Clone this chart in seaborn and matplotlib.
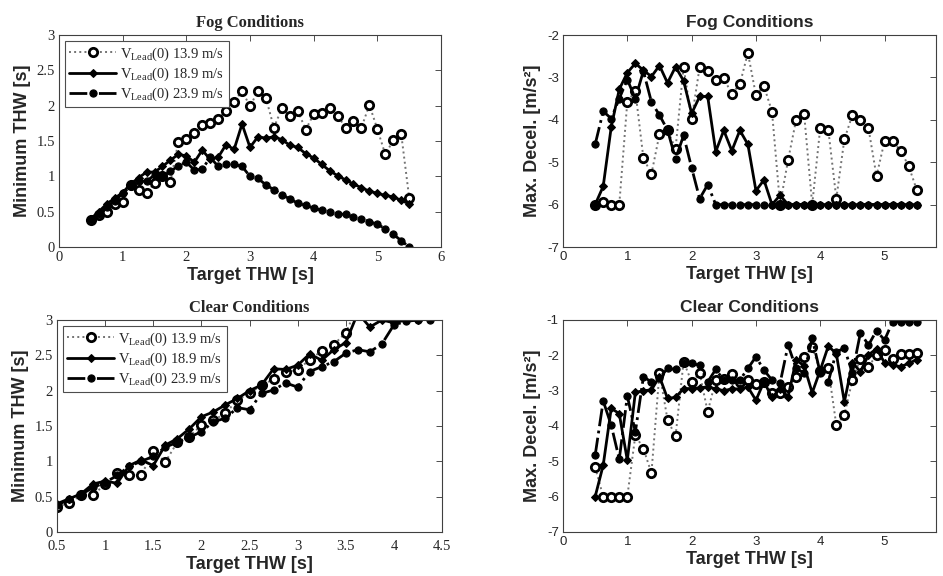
import numpy as np
import pandas as pd
import matplotlib
matplotlib.use('Agg')
import matplotlib.pyplot as plt
import seaborn as sns

# target THW grid (s)
thw = [0.5, 0.625, 0.75, 0.875, 1.0, 1.125, 1.25, 1.375, 1.5, 1.625, 1.75,
       1.875, 2.0, 2.125, 2.25, 2.375, 2.5, 2.625, 2.75, 2.875, 3.0, 3.125,
       3.25, 3.375, 3.5, 3.625, 3.75, 3.875, 4.0, 4.125, 4.25, 4.375, 4.5,
       4.625, 4.75, 4.875, 5.0, 5.125, 5.25, 5.375, 5.5]

labels = [r'V$_{\mathrm{Lead}}$(0) 13.9 m/s',
          r'V$_{\mathrm{Lead}}$(0) 18.9 m/s',
          r'V$_{\mathrm{Lead}}$(0) 23.9 m/s']

# Fog - minimum THW
fog_thw_139 = [0.38, 0.45, 0.49, 0.61, 0.63, 0.88, 0.80, 0.76, 0.91, 1.00, 0.92,
               1.49, 1.53, 1.62, 1.73, 1.75, 1.81, 1.93, 2.05, 2.21, 1.99, 2.21,
               2.11, 1.69, 1.96, 1.86, 1.93, 1.66, 1.88, 1.90, 1.96, 1.86, 1.69,
               1.79, 1.69, 2.01, 1.67, 1.31, 1.51, 1.60, 0.70]
fog_thw_189 = [0.40, 0.50, 0.61, 0.69, 0.77, 0.89, 0.98, 1.06, 1.06, 1.14, 1.23,
               1.31, 1.29, 1.20, 1.37, 1.24, 1.27, 1.45, 1.38, 1.74, 1.41, 1.56,
               1.54, 1.56, 1.52, 1.44, 1.41, 1.32, 1.26, 1.17, 1.08, 1.01, 0.95,
               0.89, 0.84, 0.79, 0.76, 0.73, 0.71, 0.66, 0.61]
fog_thw_239 = [0.39, 0.47, 0.56, 0.65, 0.76, 0.86, 0.93, 0.93, 1.02, 1.00, 1.07,
               1.15, 1.20, 1.09, 1.10, 1.27, 1.14, 1.17, 1.17, 1.14, 1.00, 0.97,
               0.88, 0.81, 0.74, 0.68, 0.62, 0.59, 0.55, 0.52, 0.49, 0.47, 0.46,
               0.42, 0.40, 0.36, 0.32, 0.26, 0.18, 0.09, 0.00]

# Fog - max deceleration
fog_dec_139 = [-6.0, -5.94, -6.0, -6.0, -3.57, -3.32, -4.9, -5.28, -4.34, -4.25, -4.68,
               -2.76, -3.98, -2.76, -2.86, -3.07, -3.02, -3.39, -3.16, -2.42, -3.42,
               -3.2, -3.81, -6.0, -4.95, -4.0, -3.87, -6.0, -4.19, -4.23, -5.86,
               -4.46, -3.89, -4.0, -4.2, -5.33, -4.5, -4.5, -4.73, -5.09, -5.65]
fog_dec_189 = [-6.0, -5.57, -4.17, -3.28, -2.89, -2.67, -2.83, -2.98, -2.72, -3.13, -2.75,
               -3.08, -3.85, -3.45, -3.45, -4.75, -4.25, -4.73, -4.25, -4.58, -5.67,
               -5.42, -6.0, -5.78, -6.0, -6.0, -6.0, -6.0, -6.0, -6.0, -6.0,
               -6.0, -6.0, -6.0, -6.0, -6.0, -6.0, -6.0, -6.0, -6.0, -6.0]
fog_dec_239 = [-4.58, -3.8, -3.97, -3.5, -3.05, -3.5, -2.85, -3.58, -3.89, -4.24, -4.92,
               -4.37, -5.13, -5.86, -5.53, -6.0, -6.0, -6.0, -6.0, -6.0, -6.0,
               -6.0, -6.0, -6.0, -6.0, -6.0, -6.0, -6.0, -6.0, -6.0, -6.0,
               -6.0, -6.0, -6.0, -6.0, -6.0, -6.0, -6.0, -6.0, -6.0, -6.0]

# Clear - minimum THW (series stop where they leave the plot)
clr_thw_139 = [0.36, 0.41, 0.52, 0.52, 0.68, 0.83, 0.81, 0.80, 1.15, 0.99, 1.27,
               1.35, 1.51, 1.58, 1.68, 1.87, 1.96, 2.08, 2.16, 2.27, 2.29, 2.44,
               2.56, 2.65, 2.82, 3.2, 3.4]
clr_thw_189 = [0.40, 0.47, 0.54, 0.68, 0.72, 0.69, 0.94, 1.02, 0.94, 1.23, 1.32,
               1.46, 1.63, 1.70, 1.80, 1.89, 2.00, 2.08, 2.31, 2.30, 2.36, 2.52,
               2.43, 2.58, 2.68, 3.10, 2.90, 3.00, 2.96, 3.00, 3.00]
clr_thw_239 = [0.38, 0.46, 0.53, 0.63, 0.70, 0.80, 0.93, 1.00, 1.07, 1.20, 1.27,
               1.34, 1.42, 1.56, 1.61, 1.76, 1.73, 1.96, 2.01, 2.11, 2.05, 2.27,
               2.34, 2.41, 2.53, 2.58, 2.55, 2.66, 2.93, 2.98, 3.00, 3.00]

# Clear - max deceleration
clr_dec_139 = [-5.17, -6.0, -6.0, -6.0, -6.0, -4.26, -4.64, -5.33, -2.49, -3.82, -4.29,
               -2.18, -2.75, -2.51, -3.6, -2.70, -2.68, -2.54, -2.75, -2.70, -2.80,
               -2.75, -3.08, -3.08, -2.90, -2.60, -2.04, -1.76, -2.45, -2.37, -3.98,
               -3.69, -2.70, -2.09, -2.32, -1.99, -1.85, -2.11, -1.97, -1.95, -1.93]
clr_dec_189 = [-6.0, -5.11, -3.5, -3.65, -4.97, -3.05, -3.0, -2.98, -2.6, -3.22, -3.19,
               -2.94, -2.94, -2.92, -2.89, -2.95, -3.0, -2.95, -2.95, -2.9, -3.27,
               -2.75, -3.19, -2.95, -3.17, -2.13, -2.3, -3.06, -2.42, -1.74, -1.95,
               -3.32, -2.21, -2.46, -1.99, -1.81, -2.21, -2.28, -2.32, -2.23, -2.12]
clr_dec_239 = [-4.83, -3.29, -3.98, -4.94, -3.15, -4.17, -2.61, -2.75, -2.65, -2.37, -2.4,
               -2.23, -2.23, -2.28, -2.75, -2.4, -2.7, -2.7, -2.7, -2.37, -2.04,
               -2.42, -2.7, -2.79, -1.71, -2.37, -2.5, -1.52, -2.5, -2.75, -1.9,
               -1.8, -2.5, -1.36, -1.71, -1.3, -1.57, -1.05, -1.05, -1.05, -1.05]

sns.set_style('white')
SERIF = 'Liberation Serif'
SANS = 'Liberation Sans'
plt.rcParams['font.family'] = [SANS, 'DejaVu Sans']
plt.rcParams['mathtext.fontset'] = 'custom'
plt.rcParams['mathtext.rm'] = SERIF
plt.rcParams['mathtext.it'] = SERIF + ':italic'

styles = [
    dict(linestyle=':', marker='o', markersize=6, markerfacecolor='white',
         markeredgecolor='k', markeredgewidth=2.0, linewidth=1.4, color='0.45'),
    dict(linestyle='-', marker='D', markersize=4.3, markerfacecolor='k',
         markeredgecolor='k', linewidth=2.0, color='k'),
    dict(linestyle='-.', marker='o', markersize=5.2, markerfacecolor='k',
         markeredgecolor='k', linewidth=2.0, color='k'),
]

fig = plt.figure(figsize=(9.43, 5.76), dpi=100)
W, H = 943, 576

def add_ax(l, r, t, b):
    return fig.add_axes([l / W, 1 - b / H, (r - l) / W, (b - t) / H])

ax_fog_thw = add_ax(59, 441, 35, 247)
ax_fog_dec = add_ax(563, 936, 35, 247)
ax_clr_thw = add_ax(57, 442, 320, 532)
ax_clr_dec = add_ax(563, 936, 320, 532)


def draw(ax, series):
    for (xs, ys), lab, st in zip(series, labels, styles):
        df = pd.DataFrame({'thw': xs, 'val': ys})
        sns.lineplot(data=df, x='thw', y='val', ax=ax, label=lab,
                     sort=False, estimator=None, **st)


draw(ax_fog_thw, [(thw, fog_thw_139), (thw, fog_thw_189), (thw, fog_thw_239)])
draw(ax_fog_dec, [(thw, fog_dec_139), (thw, fog_dec_189), (thw, fog_dec_239)])
draw(ax_clr_thw, [(thw[:len(clr_thw_139)], clr_thw_139),
                  (thw[:len(clr_thw_189)], clr_thw_189),
                  (thw[:len(clr_thw_239)], clr_thw_239)])
draw(ax_clr_dec, [(thw, clr_dec_139), (thw, clr_dec_189), (thw, clr_dec_239)])


def style_ax(ax, xlim, xticks, ylim, yticks, title, ylabel, serif, xpad=3):
    fam = SERIF if serif else SANS
    ax.set_xlim(*xlim)
    ax.set_ylim(*ylim)
    ax.set_xticks(xticks)
    ax.set_yticks(yticks)
    ax.set_xticklabels(['%g' % v for v in xticks], family=fam,
                       fontsize=10.5 if serif else 9.5)
    ax.set_yticklabels(['%g' % v for v in yticks], family=fam,
                       fontsize=10.5 if serif else 9.5)
    ax.tick_params(direction='in', top=True, right=True, length=4,
                   width=0.7, color='0.3', pad=3)
    ax.tick_params(axis='x', pad=xpad)
    for s in ax.spines.values():
        s.set_linewidth(0.8)
        s.set_color('0.25')
    ax.set_title(title, family=fam, fontweight='bold',
                 fontsize=12 if serif else 12.5, pad=6)
    ax.set_xlabel('Target THW [s]', family=SANS, fontweight='bold',
                  fontsize=13, labelpad=2)
    ax.set_ylabel(ylabel, family=SANS, fontweight='bold', fontsize=13,
                  labelpad=4)
    if serif:
        leg = ax.legend(loc='upper left', prop={'family': SERIF, 'size': 10.5},
                        frameon=True, fancybox=False, framealpha=1,
                        edgecolor='0.3', borderpad=0.3, labelspacing=0.2,
                        handlelength=3.2, handletextpad=0.3,
                        borderaxespad=0.4)
        leg.get_frame().set_linewidth(0.8)
    else:
        ax.get_legend().remove()


style_ax(ax_fog_thw, (0, 6), [0, 1, 2, 3, 4, 5, 6], (0, 3),
         [0, 0.5, 1, 1.5, 2, 2.5, 3], 'Fog Conditions', 'Minimum THW [s]', True)
style_ax(ax_fog_dec, (0, 5.8), [0, 1, 2, 3, 4, 5], (-7, -2),
         [-7, -6, -5, -4, -3, -2], 'Fog Conditions', 'Max. Decel. [m/s²]', False)
style_ax(ax_clr_thw, (0.5, 4.5), [0.5, 1, 1.5, 2, 2.5, 3, 3.5, 4, 4.5], (0, 3),
         [0, 0.5, 1, 1.5, 2, 2.5, 3], 'Clear Conditions', 'Minimum THW [s]', True,
         xpad=6)
style_ax(ax_clr_dec, (0, 5.8), [0, 1, 2, 3, 4, 5], (-7, -1),
         [-7, -6, -5, -4, -3, -2, -1], 'Clear Conditions', 'Max. Decel. [m/s²]', False)

fig.savefig('out.png', dpi=100)
